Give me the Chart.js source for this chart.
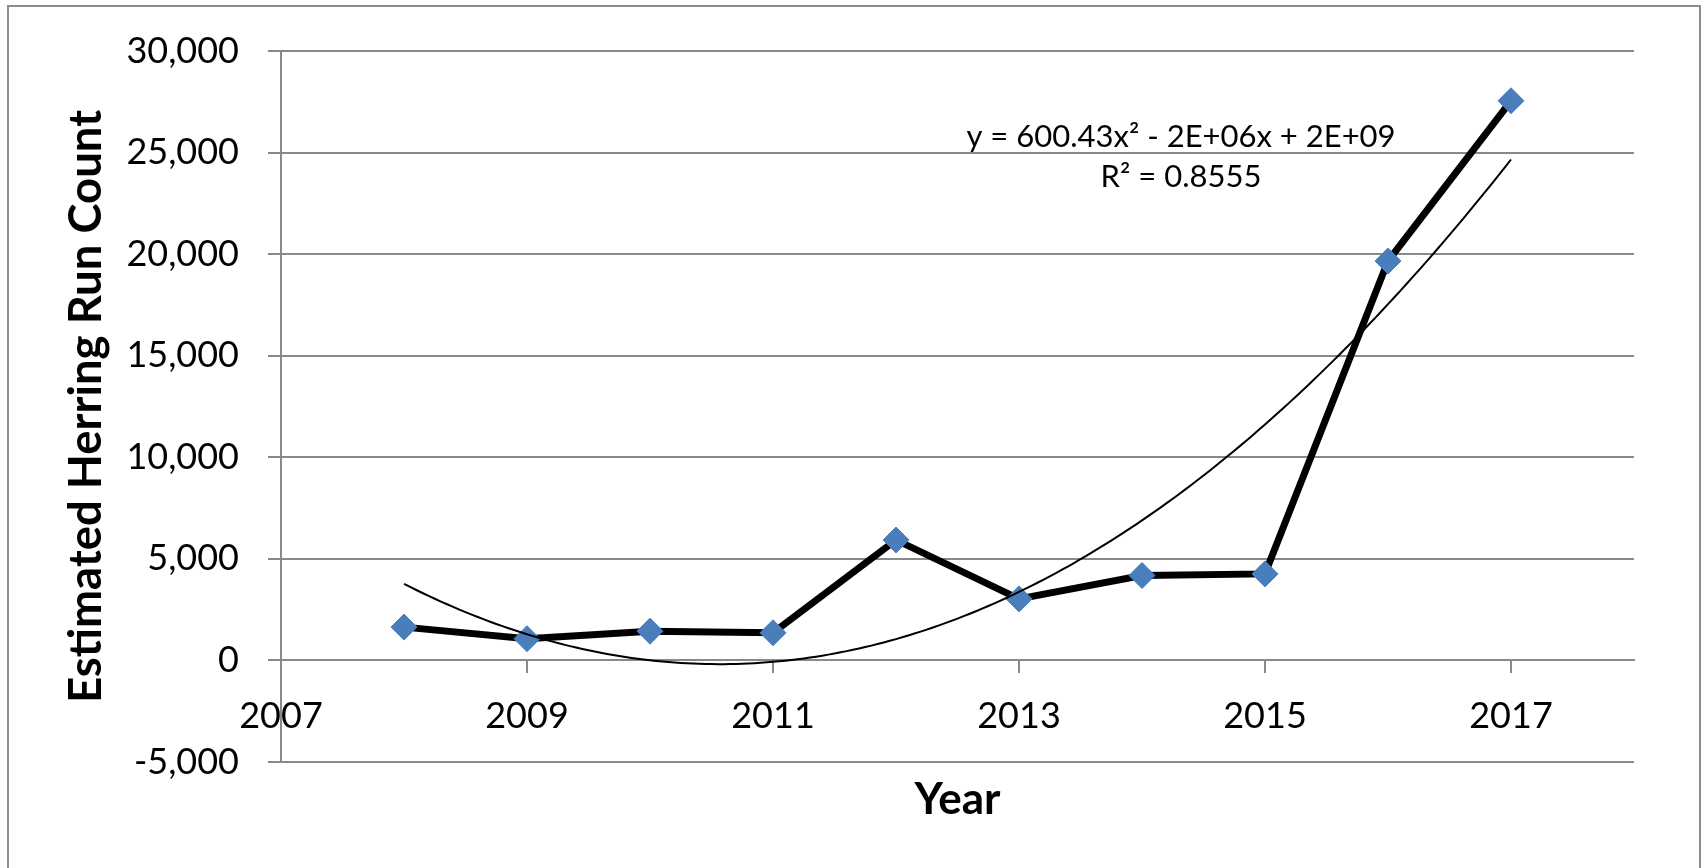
<!DOCTYPE html>
<html>
<head>
<meta charset="utf-8">
<script src="https://cdn.jsdelivr.net/npm/chart.js@4.4.1/dist/chart.umd.min.js"></script>
<style>
  html, body { margin: 0; padding: 0; background: #fff; overflow: hidden; }
  #wrap { position: relative; width: 1705px; height: 868px; }
  #frame { position: absolute; left: 7px; top: 5px; width: 1694px; height: 900px;
           border: 2px solid #8c8c8c; box-sizing: border-box; }
  canvas { position: absolute; left: 0; top: 0; }
</style>
</head>
<body>
<div id="wrap">
  <div id="frame"></div>
  <canvas id="c" width="1705" height="868"></canvas>
</div>
<script>
// ---- data ----
const years = [2008, 2009, 2010, 2011, 2012, 2013, 2014, 2015, 2016, 2017];
const herringCounts = [1640, 1070, 1440, 1360, 5930, 3030, 4180, 4260, 19660, 27550];
const xTickValues = [2007, 2009, 2011, 2013, 2015, 2017];
const yTickValues = [-5000, 0, 5000, 10000, 15000, 20000, 25000, 30000];
const equationLines = ['y = 600.43x² - 2E+06x + 2E+09', 'R² = 0.8555'];
const xTitle = 'Year';
const yTitle = 'Estimated Herring Run Count';

// ---- polynomial (order 2) trendline, least squares fit of the data, as a spreadsheet does ----
function fitQuadratic(xs, ys) {
  const n = xs.length;
  const x0 = xs.reduce((a, b) => a + b, 0) / n;
  let S = [0, 0, 0, 0, 0], T = [0, 0, 0];
  for (let i = 0; i < n; i++) {
    const t = xs[i] - x0;
    for (let k = 0; k <= 4; k++) S[k] += Math.pow(t, k);
    for (let k = 0; k <= 2; k++) T[k] += Math.pow(t, k) * ys[i];
  }
  const M = [[S[0], S[1], S[2], T[0]], [S[1], S[2], S[3], T[1]], [S[2], S[3], S[4], T[2]]];
  for (let i = 0; i < 3; i++) {
    for (let j = i + 1; j < 3; j++) {
      const f = M[j][i] / M[i][i];
      for (let k = i; k < 4; k++) M[j][k] -= f * M[i][k];
    }
  }
  const c = [0, 0, 0];
  for (let i = 2; i >= 0; i--) {
    let s = M[i][3];
    for (let k = i + 1; k < 3; k++) s -= M[i][k] * c[k];
    c[i] = s / M[i][i];
  }
  return x => { const t = x - x0; return c[0] + c[1] * t + c[2] * t * t; };
}
const trend = fitQuadratic(years, herringCounts);
const trendPoints = [];
for (let k = 0; k <= 180; k++) {
  const x = years[0] + (years[years.length - 1] - years[0]) * k / 180;
  trendPoints.push({ x: x, y: trend(x) });
}

const GRID = '#898989';
const FONT = 'Lato';

const equationPlugin = {
  id: 'equation',
  afterDatasetsDraw(chart) {
    const ctx = chart.ctx;
    ctx.save();
    ctx.fillStyle = '#000';
    ctx.font = '31px ' + FONT;
    ctx.textAlign = 'center';
    ctx.textBaseline = 'alphabetic';
    ctx.fillText(equationLines[0], 1181, 147);
    ctx.fillText(equationLines[1], 1181, 187);
    ctx.restore();
  }
};

new Chart(document.getElementById('c'), {
  type: 'scatter',
  data: {
    datasets: [
      {
        label: 'Poly. trendline',
        data: trendPoints,
        showLine: true,
        borderColor: '#000',
        borderWidth: 2,
        pointRadius: 0,
        pointHoverRadius: 0,
        tension: 0,
        order: 0
      },
      {
        label: 'Estimated Herring Run Count',
        data: years.map((y, i) => ({ x: y, y: herringCounts[i] })),
        showLine: true,
        borderColor: '#000',
        borderWidth: 7,
        pointStyle: 'rectRot',
        pointRadius: 13,
        pointBackgroundColor: '#4a7ebb',
        pointBorderColor: '#4a7ebb',
        pointBorderWidth: 1,
        tension: 0,
        order: 1
      }
    ]
  },
  options: {
    responsive: false,
    animation: false,
    events: [],
    layout: { padding: { top: 51, right: 71, bottom: 0, left: 0 } },
    plugins: { legend: { display: false }, tooltip: { enabled: false } },
    scales: {
      x: {
        type: 'linear',
        position: { y: 0 },
        min: 2007,
        max: 2018,
        afterBuildTicks: s => { s.ticks = xTickValues.map(v => ({ value: v })); },
        grid: { drawOnChartArea: false, drawTicks: true, tickLength: 12, color: GRID, lineWidth: 2 },
        border: { display: true, color: GRID, width: 2 },
        ticks: { color: '#000', font: { family: FONT, size: 36 }, padding: 22, maxRotation: 0,
                 callback: v => String(v) }
      },
      x2: {
        type: 'linear',
        position: 'bottom',
        min: 2007,
        max: 2018,
        grid: { display: false },
        border: { display: false },
        ticks: { display: false },
        title: { display: true, text: xTitle, color: '#000',
                 font: { family: FONT, size: 44, weight: 'bold' }, padding: { top: 0, bottom: 42 } },
        afterFit: s => { s.height = 106; }
      },
      y: {
        type: 'linear',
        position: 'left',
        min: -5000,
        max: 30000,
        afterBuildTicks: s => { s.ticks = yTickValues.map(v => ({ value: v })); },
        grid: { drawTicks: true, tickLength: 13, color: GRID, lineWidth: 2 },
        border: { display: true, color: GRID, width: 2 },
        ticks: { color: '#000', font: { family: FONT, size: 36 }, padding: 29,
                 callback: v => v.toLocaleString('en-US') },
        title: { display: true, text: yTitle, color: '#000',
                 font: { family: FONT, size: 45.5, weight: 'bold' }, padding: { top: 59, bottom: 0 } },
        afterFit: s => { s.width = 281; }
      }
    }
  },
  plugins: [equationPlugin]
});
</script>
</body>
</html>
